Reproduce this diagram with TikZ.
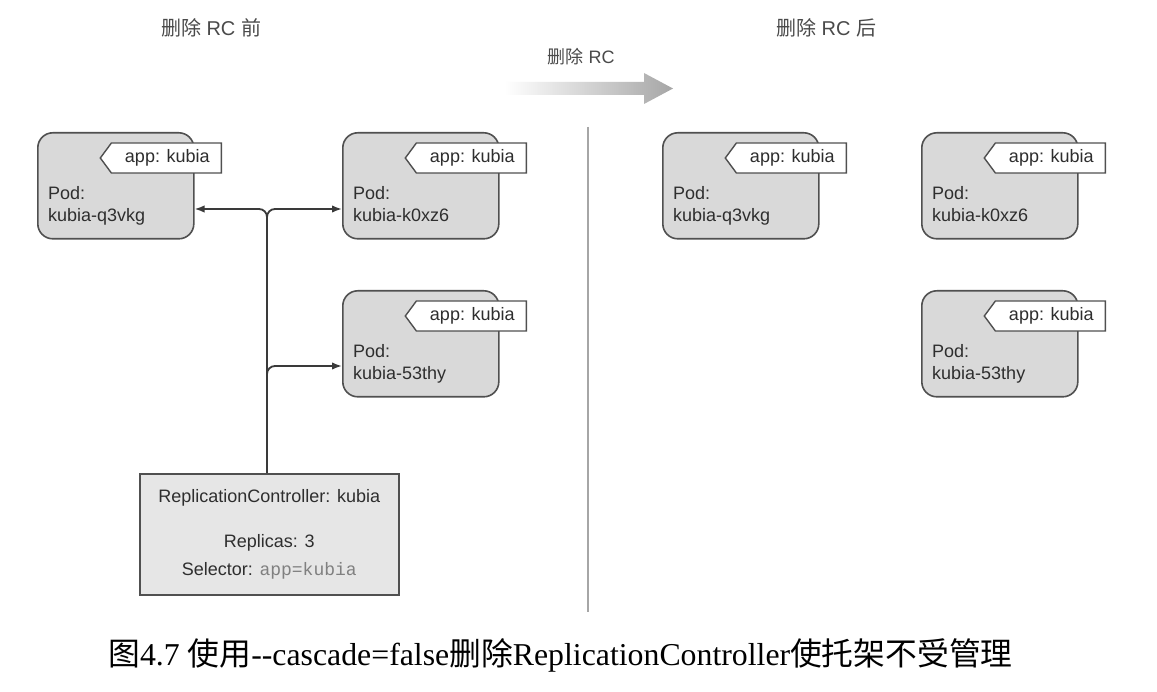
\documentclass[tikz,border=0pt]{standalone}
\usepackage{fontspec}
\setmainfont{Liberation Sans}
\newfontfamily\cjk{Noto Sans CJK SC}
\newfontfamily\monof{Liberation Mono}
\newfontfamily\capfont{Liberation Serif}
\usetikzlibrary{calc,shapes.symbols,arrows.meta}
\definecolor{txt}{HTML}{2E2E2E}
\definecolor{bord}{HTML}{505050}
\definecolor{podfill}{HTML}{D9D9D9}
\definecolor{rcfill}{HTML}{E6E6E6}
\definecolor{ttl}{HTML}{4A4A4A}
\definecolor{linec}{HTML}{3A3A3A}
\tikzset{
  pod/.style={draw=bord, line width=1.6pt, fill=podfill, rounded corners=15pt,
    minimum width=156pt, minimum height=106pt, inner sep=0pt},
  tagbox/.style={signal, signal to=west, signal from=nowhere, signal pointer angle=107, draw=bord,
    line width=1.4pt, fill=white, minimum width=121pt, minimum height=30pt,
    inner sep=0pt, font=\fontsize{18}{22}\selectfont, text=txt},
  podtxt/.style={inner sep=0pt, font=\fontsize{18}{22}\selectfont, text=txt},
  rcbox/.style={draw=bord, line width=1.6pt, fill=rcfill, minimum width=259pt,
    minimum height=121pt, inner sep=0pt},
  conn/.style={draw=linec, line width=1.8pt, rounded corners=8pt,
    -{Latex[length=10pt,width=7.5pt]}},
  title/.style={inner sep=0pt, font=\fontsize{20}{24}\selectfont, text=ttl},
}
\newcommand{\mkpod}[4]{%
  \node[pod, anchor=north west] (#1) at (#2,#3) {};
  \node[tagbox, anchor=east] (#1tag) at ($(#1.north west)+(185,26)$) {\hspace{2pt}app: kubia};
  \node[podtxt, anchor=base west] (#1a) at ($(#1.north west)+(11,68)$) {Pod:};
  \node[podtxt, anchor=base west] (#1b) at ($(#1.north west)+(11,90)$) {#4};
}
\begin{document}
\begin{tikzpicture}[x=1pt,y=-1pt]
\useasboundingbox[fill=white] (0,0) rectangle (1157,692);
% titles
\node[title] (t1) at (211,28) {{\cjk 删除} RC {\cjk 前}};
\node[title] (t2) at (826,28) {{\cjk 删除} RC {\cjk 后}};
\node[title, font=\fontsize{18}{22}\selectfont] (t3) at (581,57) {{\cjk 删除} RC};
% gradient arrow
\shade[left color=white, right color=gray!70] (505,82) -- (644,82) -- (644,73) -- (673,88.5) -- (644,104) -- (644,95) -- (505,95) -- cycle;
% separator
\coordinate (sepT) at (588,127);
\coordinate (sepB) at (588,612);
\draw[gray!70, line width=1.6pt] (sepT) -- (sepB);
% pods
\mkpod{p1}{37}{132}{kubia-q3vkg}
\mkpod{p2}{342}{132}{kubia-k0xz6}
\mkpod{p3}{342}{290}{kubia-53thy}
\mkpod{p4}{662}{132}{kubia-q3vkg}
\mkpod{p5}{921}{132}{kubia-k0xz6}
\mkpod{p6}{921}{290}{kubia-53thy}
% RC box
\node[rcbox, anchor=north west] (rc) at (139,473) {};
\node[podtxt, anchor=base] (rct) at ($(rc.north)+(0,29)$) {ReplicationController: kubia};
\node[podtxt, anchor=base] (rcr) at ($(rc.north)+(0,74)$) {Replicas: 3};
\node[podtxt, anchor=base] (rcs) at ($(rc.north)+(0,102)$) {Selector: {\color{gray}\monof app=kubia}};
% connectors
\coordinate (jt) at (267,209);
\coordinate (jb) at (267,366);
\draw[conn] (rc.north -| jt) -- (jt) -- (p1.east |- jt);
\draw[conn] ($(jt)+(0,40)$) -- (jt) -- (p2.west |- jt);
\draw[conn] ($(jb)+(0,40)$) -- (jb) -- (p3.west |- jb);
% caption
\node[inner sep=0pt, font=\fontsize{31.8}{36}\selectfont\capfont, anchor=west] (cap) at (108,655)
  {{\cjk 图}4.7 {\cjk 使用}-{}-cascade=false{\cjk 删除}ReplicationController{\cjk 使托架不受管理}};
\end{tikzpicture}
\end{document}
